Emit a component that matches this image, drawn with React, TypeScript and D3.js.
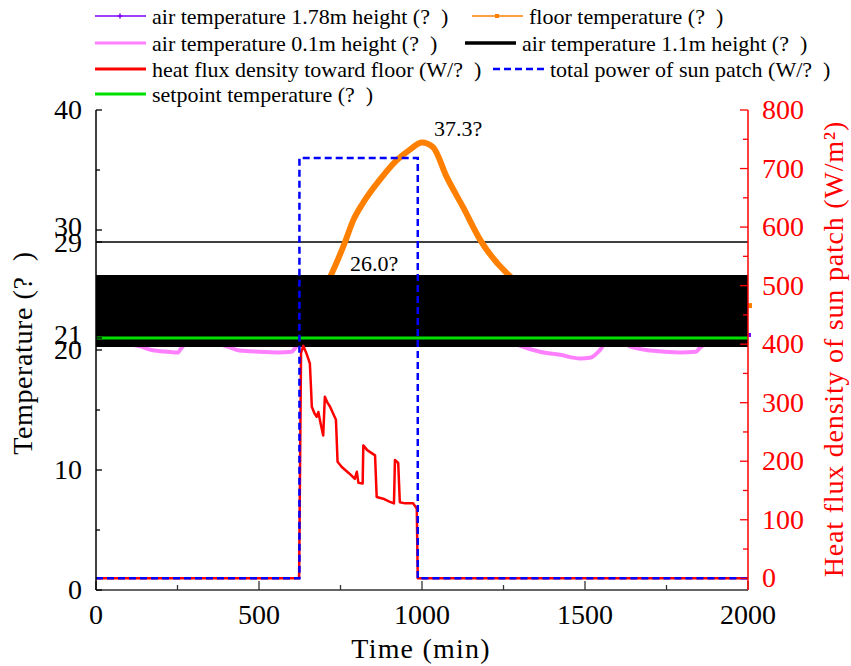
import React from "react";
import * as d3 from "d3";

const WIDTH = 851;
const HEIGHT = 666;

// ---------- axis domains & ticks ----------
const timeDomain: [number, number] = [0, 2000];
const tempDomain: [number, number] = [0, 40];
const fluxDomain: [number, number] = [-20, 800];

const xMajorTicks = [0, 500, 1000, 1500, 2000];
const xMinorTicks = [250, 750, 1250, 1750];
const tempMajorTicks = [0, 10, 20, 21, 29, 30, 40];
const tempMinorTicks = [5, 15, 25, 35];
const fluxMajorTicks = [0, 100, 200, 300, 400, 500, 600, 700, 800];
const fluxMinorTicks = [50, 150, 250, 350, 450, 550, 650, 750];

// ---------- series ----------
const setpointTemp = 21;
const referenceTemp = 29;

// air temperature 1.1m height: fast on/off oscillation, drawn as its min/max envelope
const air11Time = [0, 2000];
const air11Low = [20.25, 20.25];
const air11High = [26.25, 26.25];

// air temperature 1.78m height (mostly hidden behind the 1.1m band)
const air178Time = [0, 600, 1000, 1400, 2000];
const air178Temp = [21.3, 21.4, 22.5, 21.4, 21.25];

// air temperature 0.1m height
const air01Time = [0, 100, 135, 170, 200, 240, 252, 260, 275, 380, 402, 440, 500, 560, 600, 612, 625, 700, 850, 1000, 1150, 1280, 1306, 1362, 1423, 1485, 1515, 1546, 1560, 1625, 1638, 1700, 1790, 1840, 1853, 1870, 2000];
const air01Temp = [20.45, 20.45, 20.3, 20.0, 19.9, 19.8, 19.8, 20.1, 20.45, 20.45, 20.3, 19.95, 19.85, 19.8, 19.85, 20.2, 20.6, 21.5, 22.2, 22.5, 21.8, 20.6, 20.3, 19.85, 19.6, 19.3, 19.35, 20.0, 20.45, 20.45, 20.3, 19.95, 19.8, 19.85, 20.2, 20.45, 20.45];

// floor temperature
const floorTime = [0, 300, 600, 650, 690, 721, 764, 789, 819, 871, 922, 963, 1000, 1034, 1076, 1126, 1178, 1260, 1300, 1400, 1600, 1800, 2000];
const floorTemp = [23.6, 23.5, 23.4, 23.6, 24.6, 26.25, 29.0, 30.8, 32.25, 34.2, 35.8, 36.7, 37.3, 36.9, 34.4, 31.9, 29.2, 26.4, 25.5, 24.7, 24.1, 23.8, 23.7];

// heat flux density toward floor (W/m2)
const fluxTime = [0, 623, 629, 636, 645, 656, 660, 662, 670, 677, 682, 690, 697, 702, 710, 718, 736, 741, 754, 775, 794, 800, 805, 818, 820, 832, 856, 861, 881, 900, 914, 917, 927, 932, 948, 973, 984, 987, 2000];
const fluxValue = [0, 0, 385, 397, 385, 367, 320, 293, 282, 276, 284, 262, 244, 310, 300, 293, 271, 199, 190, 180, 170, 182, 163, 162, 227, 219, 210, 139, 136, 131, 128, 202, 197, 130, 128, 128, 119, 0, 0];

// total power of sun patch (W/m2)
const sunTime = [0, 624, 624, 987, 987, 2000];
const sunPower = [0, 0, 718, 718, 0, 0];

// annotations
const annotations = [
  { t: 1000, v: 37.3, label: "37.3?", dx: 12, dy: -6 },
  { t: 721, v: 26.25, label: "26.0?", dx: 19, dy: -4 },
];

const NB = "\u00a0\u00a0";

// legend
const legendItems = [
  { label: `air temperature 1.78m height (?${NB})`, color: "#7b00ff", width: 1.5, dash: "", marker: "plus", x: 95, row: 0 },
  { label: `floor temperature (?${NB})`, color: "#ff8000", width: 1.5, dash: "", marker: "square", x: 472, row: 0 },
  { label: `air temperature 0.1m height (?${NB})`, color: "#ff80ff", width: 3, dash: "", marker: "", x: 95, row: 1 },
  { label: `air temperature 1.1m height (?${NB})`, color: "#000000", width: 3.5, dash: "", marker: "", x: 465, row: 1 },
  { label: `heat flux density toward floor (W/?${NB})`, color: "#ff0000", width: 3, dash: "", marker: "", x: 95, row: 2 },
  { label: `total power of sun patch (W/?${NB})`, color: "#0000ff", width: 2.5, dash: "7,4", marker: "", x: 493, row: 2 },
  { label: `setpoint temperature (?${NB})`, color: "#00e000", width: 3, dash: "", marker: "", x: 95, row: 3 },
];
const legendRowY = [16, 43, 69, 94];

const FONT = "Liberation Serif, Times New Roman, DejaVu Serif, serif";
const T = { fontFamily: FONT };

export default function App() {
  const left = 96, right = 748, top = 110, bottom = 590;
  const x = d3.scaleLinear().domain(timeDomain).range([left, right]);
  const yT = d3.scaleLinear().domain(tempDomain).range([bottom, top]);
  const yF = d3.scaleLinear().domain(fluxDomain).range([bottom, top]);

  const zip = (ts: number[], vs: number[]) => ts.map((t, i) => [t, vs[i]] as [number, number]);

  const lineF = d3.line<[number, number]>().x((d) => x(d[0])).y((d) => yF(d[1]));
  const smoothT = d3.line<[number, number]>().x((d) => x(d[0])).y((d) => yT(d[1])).curve(d3.curveMonotoneX);

  const bandArea = d3
    .area<number>()
    .x((_, i) => x(air11Time[i]))
    .y0((_, i) => yT(air11Low[i]))
    .y1((_, i) => yT(air11High[i]));

  const labelShift = (v: number) => (v === 30 || v === 21 ? -3 : v === 29 ? 1 : 0);

  return (
    <svg
      width={WIDTH}
      height={HEIGHT}
      style={{ position: "absolute", left: 0, top: 0, background: "#fff" }}
    >
      {/* series under the band */}
      <path d={smoothT(zip(air01Time, air01Temp)) || ""} fill="none" stroke="#ff80ff" strokeWidth={4} />
      <path d={smoothT(zip(air178Time, air178Temp)) || ""} fill="none" stroke="#7b00ff" strokeWidth={1.5} />
      <rect x={x(2000) - 1} y={yT(air178Temp[air178Temp.length - 1]) - 2} width={4} height={4} fill="#7b00ff" />

      {/* reference line at 29 */}
      <line x1={x(0)} x2={x(2000)} y1={yT(referenceTemp)} y2={yT(referenceTemp)} stroke="#000" strokeWidth={1.3} />

      {/* floor temperature */}
      <path d={smoothT(zip(floorTime, floorTemp)) || ""} fill="none" stroke="#ff8000" strokeWidth={6} strokeLinejoin="round" />
      <rect x={x(2000) - 1} y={yT(floorTemp[floorTemp.length - 1]) - 2.5} width={5} height={5} fill="#ff8000" />

      {/* air temperature 1.1m band */}
      <path d={bandArea(air11Low) || ""} fill="#000" stroke="none" />

      {/* setpoint */}
      <line x1={x(0)} x2={x(2000)} y1={yT(setpointTemp)} y2={yT(setpointTemp)} stroke="#00e000" strokeWidth={3} />

      {/* heat flux */}
      <path d={lineF(zip(fluxTime, fluxValue)) || ""} fill="none" stroke="#ff0000" strokeWidth={2.5} strokeLinejoin="round" />

      {/* sun patch power */}
      <path d={lineF(zip(sunTime, sunPower)) || ""} fill="none" stroke="#0000ff" strokeWidth={2.5} strokeDasharray="7,4" />

      {/* annotations */}
      {annotations.map((a, i) => (
        <text key={i} {...T} x={x(a.t) + a.dx} y={yT(a.v) + a.dy} fontSize={22} fill="#000">
          {a.label}
        </text>
      ))}

      {/* bottom axis */}
      <line x1={left} x2={right} y1={bottom} y2={bottom} stroke="#333" strokeWidth={1.5} />
      {xMajorTicks.map((t) => (
        <g key={"xM" + t}>
          <line x1={x(t)} x2={x(t)} y1={bottom} y2={bottom - 9} stroke="#333" strokeWidth={1.3} />
          <text {...T} x={x(t)} y={624} fontSize={28} textAnchor="middle" fill="#000">
            {t}
          </text>
        </g>
      ))}
      {xMinorTicks.map((t) => (
        <line key={"xm" + t} x1={x(t)} x2={x(t)} y1={bottom} y2={bottom - 5} stroke="#333" strokeWidth={1.3} />
      ))}
      <text {...T} x={421} y={658} fontSize={28} textAnchor="middle" letterSpacing={1.2} fill="#000">
        Time (min)
      </text>

      {/* left axis */}
      <line x1={left} x2={left} y1={top} y2={bottom} stroke="#000" strokeWidth={1.5} />
      {tempMajorTicks.map((v) => (
        <g key={"yM" + v}>
          <line x1={left} x2={left + 6} y1={yT(v)} y2={yT(v)} stroke="#000" strokeWidth={1.3} />
          <text {...T} x={82} y={yT(v) + 9 + labelShift(v)} fontSize={28} textAnchor="end" fill="#000">
            {v}
          </text>
        </g>
      ))}
      {tempMinorTicks.map((v) => (
        <line key={"ym" + v} x1={left} x2={left + 4} y1={yT(v)} y2={yT(v)} stroke="#000" strokeWidth={1.3} />
      ))}
      <text
        {...T}
        transform={`translate(32, 353) rotate(-90)`}
        fontSize={28}
        textAnchor="middle"
        letterSpacing={0.6}
        fill="#000"
      >
        {`Temperature (?${NB})`}
      </text>

      {/* right axis */}
      <line x1={right} x2={right} y1={top} y2={bottom} stroke="#ff0000" strokeWidth={1.5} />
      {fluxMajorTicks.map((v) => (
        <g key={"fM" + v}>
          <line x1={right} x2={right - 8} y1={yF(v)} y2={yF(v)} stroke="#ff0000" strokeWidth={1.3} />
          <text {...T} x={762} y={yF(v) + 9} fontSize={28} textAnchor="start" fill="#ff0000">
            {v}
          </text>
        </g>
      ))}
      {fluxMinorTicks.map((v) => (
        <line key={"fm" + v} x1={right} x2={right - 5} y1={yF(v)} y2={yF(v)} stroke="#ff0000" strokeWidth={1.3} />
      ))}
      <text
        {...T}
        transform={`translate(843, 349) rotate(-90)`}
        fontSize={28}
        textAnchor="middle"
        letterSpacing={0.8}
        fill="#ff0000"
      >
        Heat flux density of sun patch (W/m²)
      </text>

      {/* legend */}
      {legendItems.map((it, i) => {
        const y = legendRowY[it.row];
        const cx = it.x + 25;
        return (
          <g key={"lg" + i}>
            <line x1={it.x} x2={it.x + 51} y1={y} y2={y} stroke={it.color} strokeWidth={it.width} strokeDasharray={it.dash || undefined} />
            {it.marker === "plus" && (
              <g stroke={it.color} strokeWidth={1.5}>
                <line x1={cx - 2.5} x2={cx + 2.5} y1={y} y2={y} />
                <line x1={cx} x2={cx} y1={y - 2.5} y2={y + 2.5} />
              </g>
            )}
            {it.marker === "square" && <rect x={cx - 2} y={y - 2} width={4} height={4} fill={it.color} />}
            <text {...T} x={it.x + 57} y={y + 7.5} fontSize={22} fill="#000">
              {it.label}
            </text>
          </g>
        );
      })}
    </svg>
  );
}
